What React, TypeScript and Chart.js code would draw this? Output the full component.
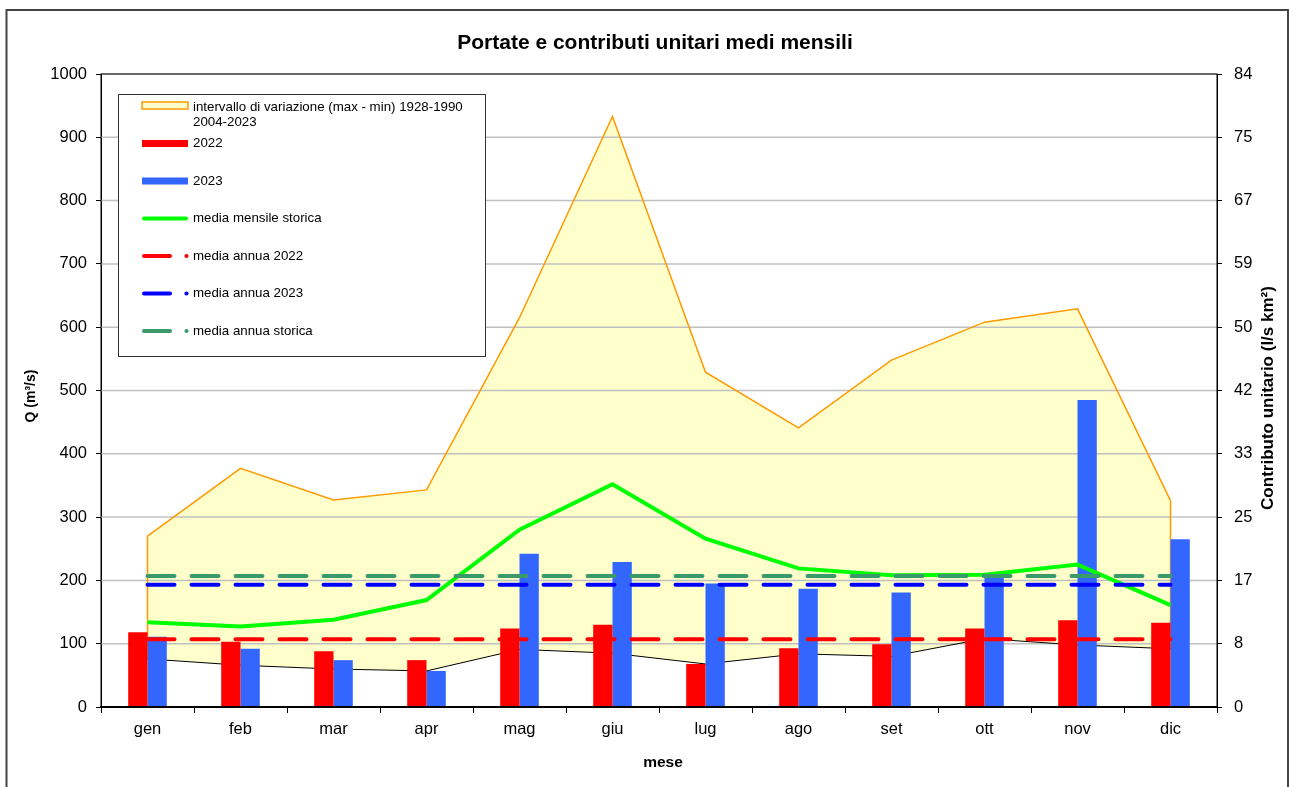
import React, { useEffect, useRef } from 'react';
import { Chart, registerables } from 'chart.js';

Chart.register(...registerables);

// ---------- data ----------
const months = ['gen', 'feb', 'mar', 'apr', 'mag', 'giu', 'lug', 'ago', 'set', 'ott', 'nov', 'dic'];
const maxValues = [270, 377, 327, 343, 615, 933, 529, 441, 548, 608, 629, 326];
const minValues = [76, 66, 60, 57, 91, 85, 68, 84, 80, 108, 98, 92];
const q2022 = [118, 103, 88, 74, 124, 130, 68, 93, 99, 124, 137, 133];
const q2023 = [111, 92, 74, 57, 242, 229, 195, 187, 181, 205, 485, 265];
const mediaMensileStorica = [134, 127, 138, 169, 280, 352, 266, 219, 208, 209, 225, 161];
const mediaAnnua2022 = 107;
const mediaAnnua2023 = 193;
const mediaAnnuaStorica = 207;
const leftTickStep = 100;
const leftMax = 1000;
const rightTickLabels = ['0', '8', '17', '25', '33', '42', '50', '59', '67', '75', '84'];
const rightMax = 84;

const titleText = 'Portate e contributi unitari medi mensili';
const xTitle = 'mese';
const yTitle = 'Q (m³/s)';
const y1Title = 'Contributo unitario (l/s km²)';
const labelInterval = ['intervallo di variazione (max - min) 1928-1990', '2004-2023'];
const label2022 = '2022';
const label2023 = '2023';
const labelMediaMensile = 'media mensile storica';
const labelAnnua2022 = 'media annua 2022';
const labelAnnua2023 = 'media annua 2023';
const labelAnnuaStorica = 'media annua storica';

const FONT = "'Liberation Sans', Arial, Helvetica, sans-serif";
const RED = '#FF0000';
const BLUE = '#3366FF';
const GREEN = '#00FF00';
const ORANGE = '#FF9900';
const YELLOW = '#FFFFCC';
const DBLUE = '#0000FF';
const DGREEN = '#3A9A6A';
const DASH = [27, 17];
const TICK_SIZE = 16.5;

export default function App() {
  const ref = useRef<HTMLCanvasElement>(null);

  useEffect(() => {
    document.body.style.margin = '0';
    const canvas = ref.current;
    if (!canvas) return;
    const flat = (v: number) => months.map(() => v);

    const decor = {
      id: 'decor',
      beforeDatasetsDraw(chart: any) {
        const { ctx, scales } = chart;
        const a = chart.chartArea;
        const y = scales.y;
        const x = scales.x;
        ctx.save();
        // gridlines (above area fill, below lines/bars)
        ctx.strokeStyle = '#c0c0c0';
        ctx.lineWidth = 1.5;
        for (const t of y.ticks) {
          const py = y.getPixelForValue(t.value);
          ctx.beginPath();
          ctx.moveTo(a.left, py);
          ctx.lineTo(a.right, py);
          ctx.stroke();
        }
        // orange vertical edges of the area
        ctx.strokeStyle = ORANGE;
        ctx.lineWidth = 1.5;
        const last = months.length - 1;
        for (const i of [0, last]) {
          const px = x.getPixelForValue(i);
          ctx.beginPath();
          ctx.moveTo(px, y.getPixelForValue(maxValues[i]));
          ctx.lineTo(px, y.getPixelForValue(minValues[i]));
          ctx.stroke();
        }
        ctx.restore();
      },
      afterDraw(chart: any) {
        const { ctx } = chart;
        const a = chart.chartArea;
        ctx.save();
        // plot frame
        ctx.strokeStyle = '#000';
        ctx.lineWidth = 1;
        ctx.strokeRect(a.left, a.top, a.right - a.left, a.bottom - a.top);
        ctx.lineWidth = 2;
        ctx.beginPath();
        ctx.moveTo(a.left, a.bottom);
        ctx.lineTo(a.right, a.bottom);
        ctx.stroke();
        // outer frame
        ctx.strokeStyle = '#444';
        ctx.lineWidth = 2;
        ctx.strokeRect(6.5, 10, 1281.5, 800);

        // title
        ctx.fillStyle = '#000';
        ctx.textAlign = 'center';
        ctx.textBaseline = 'middle';
        ctx.font = `bold 21px ${FONT}`;
        ctx.fillText(titleText, 655, 43);
        // x title
        ctx.font = `bold 15.5px ${FONT}`;
        ctx.fillText(xTitle, 663, 763);
        // y titles
        ctx.save();
        ctx.translate(31, 396);
        ctx.rotate(-Math.PI / 2);
        ctx.font = `bold 14px ${FONT}`;
        ctx.fillText(yTitle, 0, 0);
        ctx.restore();
        ctx.save();
        ctx.translate(1268, 398);
        ctx.rotate(-Math.PI / 2);
        ctx.font = `bold 17px ${FONT}`;
        ctx.fillText(y1Title, 0, 0);
        ctx.restore();

        // legend
        const lx = 118.5, ly = 94.5, lw = 367, lh = 262;
        ctx.fillStyle = '#fff';
        ctx.fillRect(lx, ly, lw, lh);
        ctx.strokeStyle = '#333';
        ctx.lineWidth = 1;
        ctx.strokeRect(lx, ly, lw, lh);
        const sx0 = 142, sx1 = 188, tx = 193;
        ctx.font = `13.3px ${FONT}`;
        ctx.textAlign = 'left';
        ctx.textBaseline = 'middle';
        // area entry
        ctx.fillStyle = YELLOW;
        ctx.fillRect(sx0, 102, sx1 - sx0, 7);
        ctx.strokeStyle = ORANGE;
        ctx.lineWidth = 1.5;
        ctx.strokeRect(sx0, 102, sx1 - sx0, 7);
        ctx.fillStyle = '#000';
        ctx.fillText(labelInterval[0], tx, 107);
        ctx.fillText(labelInterval[1], tx, 122);
        const lineEntry = (yy: number, color: string, w: number, dashed: boolean, text: string, cap: CanvasLineCap) => {
          ctx.save();
          ctx.strokeStyle = color;
          ctx.fillStyle = color;
          ctx.lineWidth = w;
          ctx.lineCap = cap;
          ctx.beginPath();
          const inset = cap === 'round' ? 2 : 0;
          ctx.moveTo(sx0 + inset, yy);
          ctx.lineTo(dashed ? 170 : sx1 - inset, yy);
          ctx.stroke();
          if (dashed) {
            ctx.beginPath();
            ctx.arc(186.5, yy, 2.1, 0, Math.PI * 2);
            ctx.fill();
          }
          ctx.restore();
          ctx.fillStyle = '#000';
          ctx.fillText(text, tx, yy);
        };
        lineEntry(143.5, RED, 7, false, label2022, 'butt');
        lineEntry(181, BLUE, 7, false, label2023, 'butt');
        lineEntry(218.5, GREEN, 4, false, labelMediaMensile, 'round');
        lineEntry(256, RED, 4, true, labelAnnua2022, 'round');
        lineEntry(293.5, DBLUE, 4, true, labelAnnua2023, 'round');
        lineEntry(331, DGREEN, 4, true, labelAnnuaStorica, 'round');
        ctx.restore();
      },
    };

    const chart = new Chart(canvas, {
      type: 'bar',
      data: {
        labels: months,
        datasets: [
          {
            type: 'line',
            label: labelInterval.join(' '),
            data: maxValues,
            borderColor: ORANGE,
            borderWidth: 1.5,
            backgroundColor: YELLOW,
            fill: '+1',
            pointRadius: 0,
            tension: 0,
            order: 10,
          },
          {
            type: 'line',
            label: 'min',
            data: minValues,
            borderColor: '#000',
            borderWidth: 1,
            fill: false,
            pointRadius: 0,
            tension: 0,
            order: 9,
          },
          {
            type: 'bar',
            label: label2022,
            data: q2022,
            backgroundColor: RED,
            borderWidth: 0,
            categoryPercentage: 0.415,
            barPercentage: 1,
            order: 5,
          },
          {
            type: 'bar',
            label: label2023,
            data: q2023,
            backgroundColor: BLUE,
            borderWidth: 0,
            categoryPercentage: 0.415,
            barPercentage: 1,
            order: 6,
          },
          {
            type: 'line',
            label: labelMediaMensile,
            data: mediaMensileStorica,
            borderColor: GREEN,
            borderWidth: 4,
            fill: false,
            pointRadius: 0,
            tension: 0,
            order: 4,
          },
          {
            type: 'line',
            label: labelAnnuaStorica,
            data: flat(mediaAnnuaStorica),
            borderColor: DGREEN,
            borderWidth: 4,
            borderDash: DASH,
            borderCapStyle: 'round',
            fill: false,
            pointRadius: 0,
            order: 3,
          },
          {
            type: 'line',
            label: labelAnnua2023,
            data: flat(mediaAnnua2023),
            borderColor: DBLUE,
            borderWidth: 4,
            borderDash: DASH,
            borderCapStyle: 'round',
            fill: false,
            pointRadius: 0,
            order: 2,
          },
          {
            type: 'line',
            label: labelAnnua2022,
            data: flat(mediaAnnua2022),
            borderColor: RED,
            borderWidth: 4,
            borderDash: DASH,
            borderCapStyle: 'round',
            fill: false,
            pointRadius: 0,
            order: 1,
          },
        ],
      },
      options: {
        animation: false,
        responsive: false,
        devicePixelRatio: 1,
        layout: { padding: { left: 0, right: 0, top: 74, bottom: 0 } },
        plugins: {
          legend: { display: false },
          title: { display: false },
          tooltip: { enabled: false },
          filler: { drawTime: 'beforeDatasetsDraw' },
        },
        scales: {
          x: {
            position: 'bottom',
            offset: true,
            grid: {
              offset: true,
              drawOnChartArea: false,
              drawTicks: true,
              tickLength: 6,
              tickColor: '#000',
              tickWidth: 1,
            },
            border: { display: true, color: '#000', width: 2 },
            ticks: { color: '#000', font: { family: FONT, size: TICK_SIZE }, padding: 7, maxRotation: 0 },
            afterFit: (s: any) => { s.height = 80; },
          },
          y: {
            position: 'left',
            min: 0,
            max: leftMax,
            ticks: {
              stepSize: leftTickStep,
              color: '#000',
              font: { family: FONT, size: TICK_SIZE },
              padding: 9,
              callback: (v: any) => String(v),
            },
            grid: { drawOnChartArea: false, tickLength: 5, tickColor: '#000', tickWidth: 1 },
            border: { display: true, color: '#000', width: 1 },
            afterFit: (s: any) => { s.width = 101; },
          },
          y1: {
            position: 'right',
            min: 0,
            max: rightMax,
            afterBuildTicks: (s: any) => {
              s.ticks = rightTickLabels.map((_, i) => ({ value: (rightMax * i) / (rightTickLabels.length - 1) }));
            },
            ticks: {
              color: '#000',
              font: { family: FONT, size: TICK_SIZE },
              padding: 12,
              callback: (_v: any, i: number) => rightTickLabels[i],
            },
            grid: { drawOnChartArea: false, tickLength: 5, tickColor: '#000', tickWidth: 1 },
            border: { display: true, color: '#000', width: 1 },
            afterFit: (s: any) => { s.width = 72; },
          },
        },
      },
      plugins: [decor],
    } as any);

    return () => chart.destroy();
  }, []);

  return <canvas ref={ref} width={1289} height={787} style={{ display: 'block' }} />;
}
